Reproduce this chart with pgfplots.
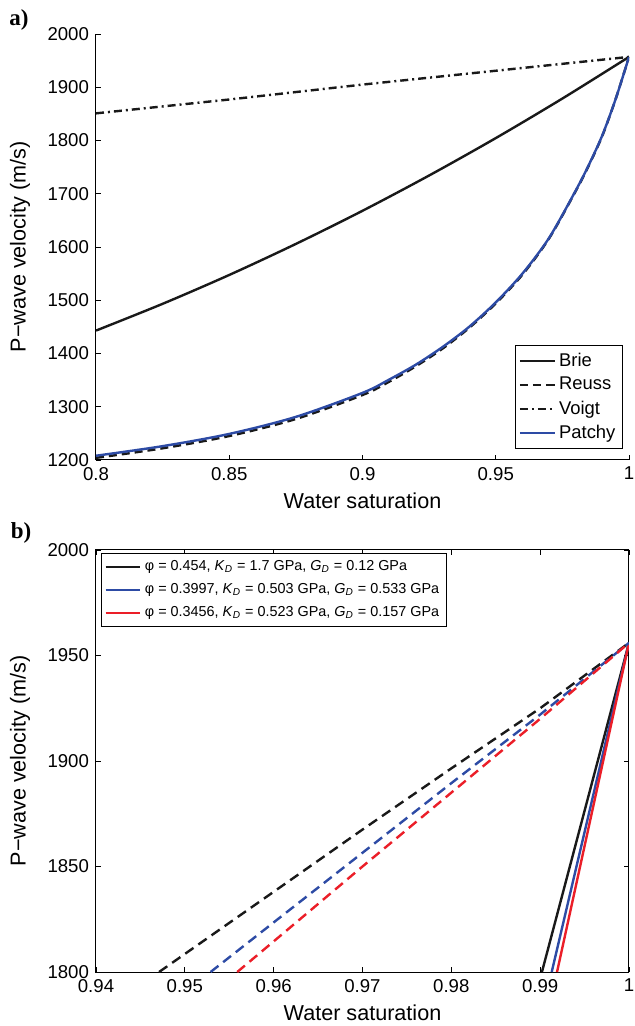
\documentclass[border=0pt]{standalone}
\usepackage{fontspec}
\setmainfont{Liberation Sans}
\newfontfamily\serifb{Liberation Serif}
\usepackage{pgfplots}
\pgfplotsset{compat=1.18}
\definecolor{mblue}{RGB}{45,75,165}
\definecolor{mred}{RGB}{235,30,40}
\definecolor{mblack}{RGB}{25,25,25}
\begin{document}
\begin{tikzpicture}
\useasboundingbox (-48pt,-27pt) rectangle (269.5pt,486pt);
\pgfplotsset{
  every axis/.append style={
    scale only axis,
    width=266.5pt,
    /pgf/number format/assume math mode=true,
    /pgf/number format/1000 sep={},
    scaled ticks=false,
    tick align=inside,
    major tick length=2.5pt,
    tick style={black,line width=0.4pt},
    axis line style={line width=0.5pt},
    ticklabel style={font=\fontsize{9.3}{10}\selectfont},
    label style={font=\fontsize{10.8}{12}\selectfont},
    xlabel style={at={(axis description cs:0.5,0)},anchor=center,yshift=-20.5pt},
    ylabel style={at={(axis description cs:-0.1426,0.5)},anchor=center},
  }
}
% ---------- panel a ----------
\begin{axis}[
  at={(0,256pt)}, anchor=south west,
  height=213pt,
  axis lines*=left,
  xmin=0.8, xmax=1, ymin=1200, ymax=2000,
  xtick={0.8,0.85,0.9,0.95,1},
  xticklabels={0.8,0.85,0.9,0.95,1},
  ytick={1200,1300,...,2000},
  xlabel={Water saturation},
  ylabel={P−wave velocity (m/s)},
  legend style={at={(1,0)},anchor=south east,xshift=-3pt,yshift=5.5pt,
    font=\fontsize{9.2}{11}\selectfont, draw=black, line width=0.6pt,
    inner sep=1.5pt, row sep=0pt, cells={anchor=west}},
  legend cell align=left,
  legend image post style={line width=1.1pt},
]
\addplot[mblack, line width=1.2pt, smooth] coordinates {
(0.8,1443) (0.825,1493.3) (0.85,1547.5) (0.875,1605.8) (0.9,1668) (0.925,1734.3) (0.95,1804.5) (0.975,1878.8) (1,1957)};
\addlegendentry{Brie}
\addplot[mblack, line width=1.2pt, smooth, dash pattern=on 4pt off 2.5pt] coordinates {
(0.8,1204) (0.825,1222) (0.85,1245) (0.875,1277) (0.9,1322) (0.91,1347) (0.92,1376) (0.93,1409) (0.94,1448) (0.95,1494) (0.96,1548) (0.97,1616) (0.98,1705) (0.985,1754) (0.99,1809) (0.995,1878) (1,1957)};
\addlegendentry{Reuss}
\addplot[mblack, line width=1.2pt, dash pattern=on 4pt off 2pt on 1pt off 2pt] coordinates {
(0.8,1851) (0.85,1877) (0.9,1905) (0.95,1931) (1,1957)};
\addlegendentry{Voigt}
\addplot[mblue, line width=1.2pt, smooth] coordinates {
(0.8,1208) (0.825,1226) (0.85,1249) (0.875,1281) (0.9,1326) (0.91,1351) (0.92,1379) (0.93,1412) (0.94,1450) (0.95,1496) (0.96,1550) (0.97,1617) (0.98,1706) (0.985,1755) (0.99,1810) (0.995,1878) (1,1957)};
\addlegendentry{Patchy}
\end{axis}
\node[font=\serifb\bfseries\fontsize{11.5}{12}\selectfont] at (-38.5pt,476pt) {a)};
% ---------- panel b ----------
\begin{axis}[
  at={(0,0)}, anchor=south west,
  height=211pt,
  xmin=0.94, xmax=1, ymin=1800, ymax=2000,
  xtick={0.94,0.95,...,1.0},
  xticklabels={0.94,0.95,0.96,0.97,0.98,0.99,1},
  ytick={1800,1850,...,2000},
  tick pos=both, xticklabel pos=lower, yticklabel pos=left,
  xlabel={Water saturation},
  ylabel={P−wave velocity (m/s)},
  legend style={at={(0,1)},anchor=north west,xshift=2.5pt,yshift=-1.5pt,
    font=\fontsize{7.2}{8.5}\selectfont, draw=black, line width=0.6pt,
    inner sep=1.5pt, row sep=1pt, cells={anchor=west}},
  legend cell align=left,
  legend image post style={line width=1.1pt},
]
\addplot[mblack, line width=1.2pt] coordinates {(0.9902,1800) (1,1956)};
\addlegendentry{φ = 0.454, \textit{K}\textsubscript{\textit{D}} = 1.7 GPa, \textit{G}\textsubscript{\textit{D}} = 0.12 GPa}
\addplot[mblue, line width=1.2pt] coordinates {(0.9913,1800) (1,1956)};
\addlegendentry{φ = 0.3997, \textit{K}\textsubscript{\textit{D}} = 0.503 GPa, \textit{G}\textsubscript{\textit{D}} = 0.533 GPa}
\addplot[mred, line width=1.2pt] coordinates {(0.9919,1800) (1,1956)};
\addlegendentry{φ = 0.3456, \textit{K}\textsubscript{\textit{D}} = 0.523 GPa, \textit{G}\textsubscript{\textit{D}} = 0.157 GPa}
\addplot[mblack, line width=1.2pt, dash pattern=on 5pt off 3pt, forget plot] coordinates {
(0.9471,1800) (0.96,1838) (0.97,1867.5) (0.98,1896.5) (0.99,1925) (1,1956)};
\addplot[mblue, line width=1.2pt, dash pattern=on 5pt off 3pt, forget plot] coordinates {
(0.9529,1800) (0.96,1823.5) (0.97,1856.5) (0.98,1889.5) (0.99,1922) (1,1956)};
\addplot[mred, line width=1.2pt, dash pattern=on 5pt off 3pt, forget plot] coordinates {
(0.9559,1800) (0.96,1814.5) (0.97,1850) (0.98,1885) (0.99,1920) (1,1956)};
\end{axis}
\node[font=\serifb\bfseries\fontsize{11.5}{12}\selectfont] at (-37.5pt,219.5pt) {b)};
\end{tikzpicture}
\end{document}
